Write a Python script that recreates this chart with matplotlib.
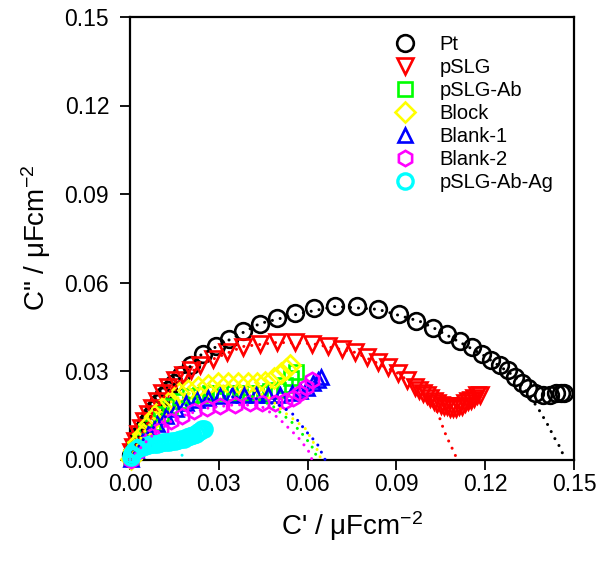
import matplotlib
matplotlib.use('Agg')
import matplotlib.pyplot as plt

plt.rcParams['font.family'] = ['Liberation Sans', 'DejaVu Sans']
plt.rcParams['mathtext.fontset'] = 'custom'
plt.rcParams['mathtext.rm'] = 'Liberation Sans'
plt.rcParams['mathtext.it'] = 'Liberation Sans'
plt.rcParams['mathtext.default'] = 'rm'

# measured points (C', C'') in uF cm^-2
pt_x = [0.0003, 0.0010, 0.0017, 0.0024, 0.0034, 0.0044, 0.0054, 0.0068, 0.0081, 0.0095,
        0.0112, 0.0129, 0.0149, 0.0172, 0.0206, 0.0247, 0.0291, 0.0335, 0.0382, 0.0439,
        0.0497, 0.0558, 0.0622, 0.0693, 0.0767, 0.0838, 0.0909, 0.0967, 0.1024, 0.1071,
        0.1115, 0.1156, 0.1190, 0.1220, 0.1251, 0.1278, 0.1301, 0.1325, 0.1345, 0.1369,
        0.1396, 0.1420, 0.1440, 0.1457, 0.1467]
pt_y = [0.0014, 0.0030, 0.0047, 0.0064, 0.0085, 0.0105, 0.0125, 0.0146, 0.0170, 0.0190,
        0.0214, 0.0234, 0.0258, 0.0285, 0.0322, 0.0359, 0.0386, 0.0410, 0.0434, 0.0461,
        0.0481, 0.0498, 0.0512, 0.0519, 0.0519, 0.0509, 0.0492, 0.0471, 0.0447, 0.0427,
        0.0403, 0.0380, 0.0356, 0.0336, 0.0319, 0.0302, 0.0281, 0.0261, 0.0241, 0.0227,
        0.0220, 0.0220, 0.0224, 0.0224, 0.0224]

pslg_x = [0.0003, 0.0010, 0.0017, 0.0027, 0.0037, 0.0047, 0.0061, 0.0074, 0.0091, 0.0108,
          0.0128, 0.0152, 0.0179, 0.0206, 0.0237, 0.0281, 0.0328, 0.0382, 0.0439, 0.0497,
          0.0558, 0.0615, 0.0669, 0.0717, 0.0761, 0.0801, 0.0838, 0.0872, 0.0906, 0.0936,
          0.0963, 0.0977, 0.0990, 0.1004, 0.1014, 0.1028, 0.1038, 0.1051, 0.1061, 0.1071,
          0.1082, 0.1092, 0.1102, 0.1112, 0.1122, 0.1132, 0.1142, 0.1153, 0.1163, 0.1173,
          0.1183]
pslg_y = [0.0024, 0.0044, 0.0064, 0.0088, 0.0108, 0.0129, 0.0153, 0.0176, 0.0200, 0.0224,
          0.0247, 0.0268, 0.0288, 0.0305, 0.0322, 0.0342, 0.0363, 0.0383, 0.0393, 0.0397,
          0.0397, 0.0393, 0.0386, 0.0376, 0.0363, 0.0346, 0.0329, 0.0312, 0.0292, 0.0268,
          0.0247, 0.0237, 0.0227, 0.0217, 0.0210, 0.0200, 0.0193, 0.0186, 0.0183, 0.0180,
          0.0176, 0.0176, 0.0176, 0.0180, 0.0183, 0.0190, 0.0197, 0.0203, 0.0210, 0.0217,
          0.0220]

ab_x = [0.0003, 0.0017, 0.0034, 0.0054, 0.0078, 0.0105, 0.0135, 0.0169, 0.0203, 0.0237,
        0.0270, 0.0304, 0.0338, 0.0372, 0.0406, 0.0439, 0.0473, 0.0500, 0.0524, 0.0544,
        0.0561]
ab_y = [0.0007, 0.0034, 0.0064, 0.0095, 0.0125, 0.0153, 0.0180, 0.0200, 0.0214, 0.0220,
        0.0224, 0.0227, 0.0227, 0.0227, 0.0227, 0.0227, 0.0231, 0.0237, 0.0251, 0.0275,
        0.0298]

block_x = [0.0003, 0.0014, 0.0027, 0.0044, 0.0064, 0.0085, 0.0108, 0.0135, 0.0166, 0.0196,
           0.0230, 0.0264, 0.0297, 0.0331, 0.0365, 0.0399, 0.0429, 0.0456, 0.0487, 0.0510,
           0.0527, 0.0541]
block_y = [0.0003, 0.0031, 0.0058, 0.0088, 0.0119, 0.0146, 0.0173, 0.0200, 0.0224, 0.0237,
           0.0247, 0.0254, 0.0258, 0.0258, 0.0258, 0.0258, 0.0261, 0.0264, 0.0275, 0.0292,
           0.0308, 0.0319]

b1_x = [0.0003, 0.0020, 0.0041, 0.0064, 0.0091, 0.0122, 0.0155, 0.0189, 0.0226, 0.0264,
        0.0304, 0.0345, 0.0385, 0.0426, 0.0466, 0.0507, 0.0548, 0.0575, 0.0598, 0.0619,
        0.0635, 0.0646]
b1_y = [0.0003, 0.0031, 0.0061, 0.0092, 0.0119, 0.0146, 0.0170, 0.0190, 0.0203, 0.0210,
        0.0214, 0.0217, 0.0217, 0.0217, 0.0217, 0.0217, 0.0224, 0.0231, 0.0241, 0.0258,
        0.0271, 0.0278]

b2_x = [0.0003, 0.0024, 0.0047, 0.0074, 0.0105, 0.0139, 0.0176, 0.0216, 0.0260, 0.0304,
        0.0355, 0.0406, 0.0446, 0.0490, 0.0524, 0.0551, 0.0575, 0.0595, 0.0615]
b2_y = [0.0000, 0.0024, 0.0051, 0.0078, 0.0105, 0.0129, 0.0149, 0.0166, 0.0176, 0.0183,
        0.0186, 0.0190, 0.0190, 0.0193, 0.0200, 0.0210, 0.0227, 0.0247, 0.0271]

ag_x = [0.0003, 0.0007, 0.0010, 0.0017, 0.0024, 0.0030, 0.0041, 0.0051, 0.0061, 0.0071,
        0.0081, 0.0091, 0.0101, 0.0112, 0.0122, 0.0132, 0.0142, 0.0152, 0.0162, 0.0172,
        0.0183, 0.0193, 0.0203, 0.0213, 0.0223, 0.0230, 0.0237, 0.0243, 0.0250]
ag_y = [0.0007, 0.0017, 0.0024, 0.0031, 0.0037, 0.0041, 0.0044, 0.0047, 0.0049, 0.0051,
        0.0053, 0.0054, 0.0056, 0.0058, 0.0059, 0.0061, 0.0063, 0.0064, 0.0066, 0.0068,
        0.0071, 0.0075, 0.0078, 0.0083, 0.0088, 0.0092, 0.0097, 0.0102, 0.0105]

# fitted curves (dotted)
pt_fx = [0.0, 0.0034, 0.0101, 0.0237, 0.0439, 0.0575, 0.0693, 0.0838, 0.0980, 0.1024,
         0.1190, 0.1301, 0.1332, 0.1355, 0.1379, 0.1409, 0.1433, 0.1453, 0.1470]
pt_fy = [0.0, 0.0085, 0.0200, 0.0353, 0.0461, 0.0495, 0.0519, 0.0509, 0.0468, 0.0447,
         0.0356, 0.0281, 0.0241, 0.0207, 0.0173, 0.0122, 0.0075, 0.0041, 0.0]
pslg_fx = [0.0, 0.0034, 0.0101, 0.0237, 0.0382, 0.0497, 0.0615, 0.0761, 0.0906, 0.0990,
           0.1021, 0.1041, 0.1055, 0.1068, 0.1082, 0.1095, 0.1105]
pslg_fy = [0.0, 0.0075, 0.0200, 0.0322, 0.0383, 0.0397, 0.0393, 0.0363, 0.0292, 0.0227,
           0.0193, 0.0156, 0.0115, 0.0081, 0.0051, 0.0024, 0.0]
ab_fx = [0.0, 0.0051, 0.0118, 0.0203, 0.0304, 0.0406, 0.0480, 0.0548, 0.0592, 0.0619, 0.0635]
ab_fy = [0.0, 0.0088, 0.0166, 0.0210, 0.0224, 0.0217, 0.0183, 0.0125, 0.0075, 0.0037, 0.0]
block_fx = [0.0, 0.0051, 0.0118, 0.0203, 0.0304, 0.0406, 0.0473, 0.0514, 0.0558, 0.0592,
            0.0608, 0.0629, 0.0646]
block_fy = [0.0, 0.0098, 0.0183, 0.0234, 0.0251, 0.0241, 0.0207, 0.0166, 0.0132, 0.0105,
            0.0078, 0.0041, 0.0]
b1_fx = [0.0, 0.0061, 0.0135, 0.0220, 0.0321, 0.0423, 0.0507, 0.0548, 0.0598, 0.0632, 0.0659]
b1_fy = [0.0, 0.0092, 0.0159, 0.0197, 0.0214, 0.0207, 0.0183, 0.0156, 0.0092, 0.0054, 0.0]
b2_fx = [0.0, 0.0068, 0.0152, 0.0254, 0.0355, 0.0439, 0.0500, 0.0568, 0.0602, 0.0615]
b2_fy = [0.0, 0.0075, 0.0139, 0.0173, 0.0186, 0.0183, 0.0142, 0.0075, 0.0031, 0.0]
ag_fx = [0.0, 0.0068, 0.0118, 0.0152, 0.0169, 0.0179, 0.0182]
ag_fy = [0.0, 0.0047, 0.0061, 0.0054, 0.0031, 0.0007, 0.0]

names = ['Pt', 'pSLG', 'pSLG-Ab', 'Block', 'Blank-1', 'Blank-2', 'pSLG-Ab-Ag']
colors = ['black', 'red', '#00ff00', '#ffff00', 'blue', 'magenta', 'cyan']
markers = ['o', 'v', 's', 'D', '^', 'h', 'o']
sizes = [12, 11, 10, 10, 10, 11, 11]
edges = [1.9, 1.9, 1.9, 1.9, 1.9, 1.9, 2.4]
data = [(pt_x, pt_y), (pslg_x, pslg_y), (ab_x, ab_y), (block_x, block_y),
        (b1_x, b1_y), (b2_x, b2_y), (ag_x, ag_y)]
fits = [(pt_fx, pt_fy), (pslg_fx, pslg_fy), (ab_fx, ab_fy), (block_fx, block_fy),
        (b1_fx, b1_fy), (b2_fx, b2_fy), (ag_fx, ag_fy)]

fig = plt.figure(figsize=(6.08, 5.61), dpi=100)
ax = fig.add_axes([130 / 608, 1 - 459.5 / 561, 444 / 608, 442.5 / 561])

handles = []
for i in range(len(names)):
    h, = ax.plot(data[i][0], data[i][1], ls='none', marker=markers[i], ms=sizes[i],
                 mfc='none', mec=colors[i], mew=edges[i], clip_on=False, zorder=3 + i,
                 label=names[i])
    handles.append(h)

for i in range(len(names)):
    ax.plot(fits[i][0], fits[i][1], color=colors[i], lw=2.2, ls=(0, (0.01, 2.6)),
            dash_capstyle='round', zorder=20, clip_on=False)

ax.set_xlim(0, 0.15)
ax.set_ylim(0, 0.15)
ticks = [0.0, 0.03, 0.06, 0.09, 0.12, 0.15]
ax.set_xticks(ticks)
ax.set_yticks(ticks)
ax.set_xticklabels(['%.2f' % t for t in ticks])
ax.set_yticklabels(['%.2f' % t for t in ticks])
ax.tick_params(direction='out', length=7, width=1.3, labelsize=16.5, top=False, right=False)
ax.tick_params(axis='x', pad=3)
ax.tick_params(axis='y', pad=8)
for s in ax.spines.values():
    s.set_linewidth(1.6)

ax.set_xlabel("C' / \u03bcFcm$^{-2}$", fontsize=20, labelpad=9)
ax.set_ylabel('C" / \u03bcFcm$^{-2}$', fontsize=20, labelpad=8)

ax.legend(handles=handles, loc='upper left', bbox_to_anchor=(395 / 608, 1 - 35 / 561),
          bbox_transform=fig.transFigure, frameon=False, fontsize=14.5, numpoints=1,
          handlelength=1.0, handletextpad=1.2, borderpad=0, borderaxespad=0,
          labelspacing=0.2)

fig.savefig('out.png', dpi=100)
